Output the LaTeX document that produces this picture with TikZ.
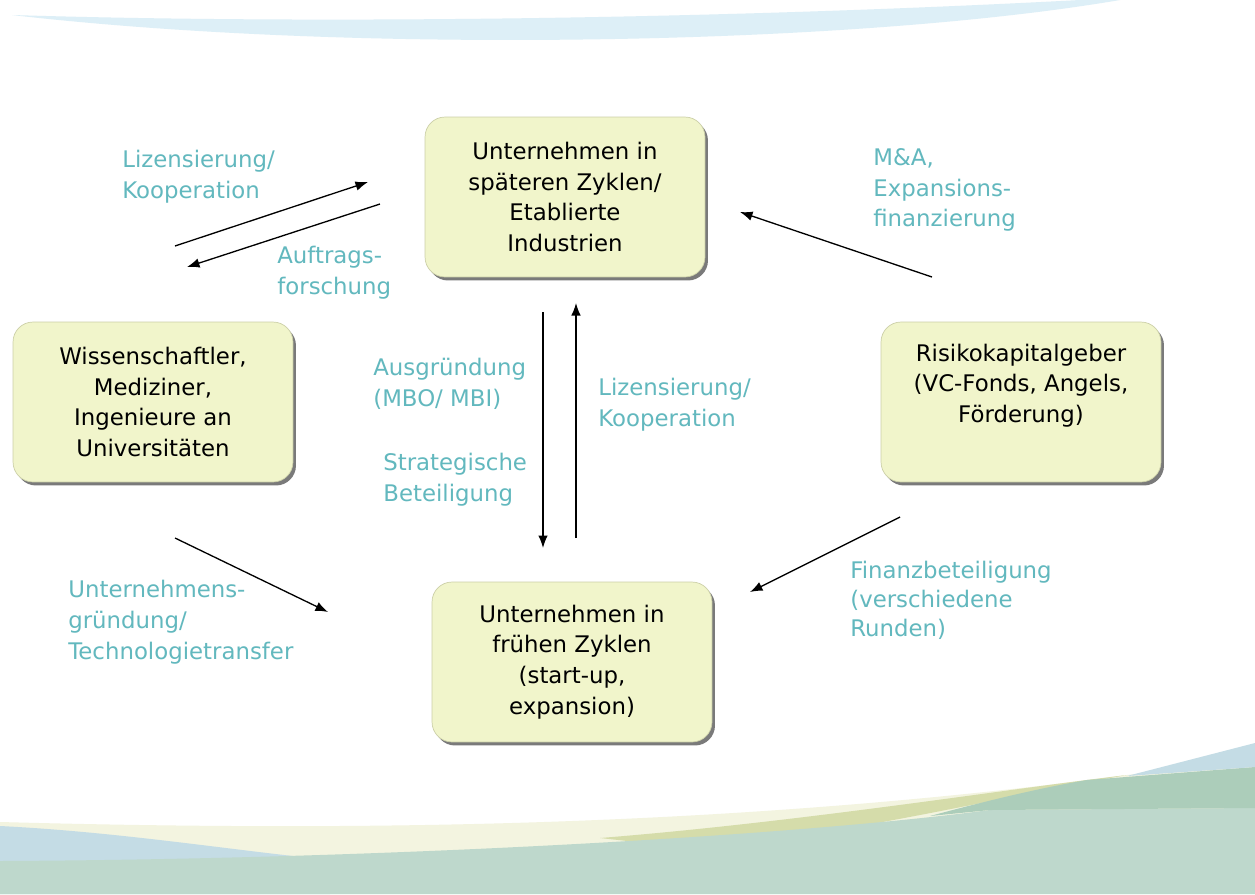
\documentclass[tikz,border=0pt]{standalone}
\usepackage{fontspec}
\setmainfont{DejaVu Sans}
\usepackage{tikz}
\usepackage{xcolor}
\usetikzlibrary{
    shadows,
    arrows.meta
}
\definecolor{boxfill}{RGB}{241,245,203}
\definecolor{boxline}{RGB}{204,208,168}
\definecolor{tealtext}{RGB}{98,184,190}
\definecolor{skyband}{RGB}{221,239,247}
\definecolor{seablue}{RGB}{196,220,229}
\definecolor{meadow}{RGB}{190,216,204}
\definecolor{darkmeadow}{RGB}{172,205,186}
\definecolor{fieldolive}{RGB}{213,220,170}
\definecolor{creamband}{RGB}{243,244,224}
\tikzset{stagebox/.style={draw=boxline, fill=boxfill, rounded corners=0.4cm,
    minimum width=5.6cm, minimum height=3.2cm, align=center,
    font=\fontsize{13}{17.5}\selectfont,
    drop shadow={shadow xshift=0.06cm, shadow yshift=-0.07cm, fill=black!65, opacity=0.8}}}
\tikzset{flowtext/.style={anchor=north west, inner sep=0pt, align=left, text=tealtext,
    font=\fontsize{13}{17.5}\selectfont}}

\begin{document}
\begin{tikzpicture}[x=0.02cm, y=-0.02cm]
            \useasboundingbox[fill=white] (0,0) rectangle (1255,894);

            % background waves
            \fill[skyband] (12,15) .. controls (300,24) and (700,20) .. (1080,0) -- (1120,0) .. controls (850,46) and (350,54) .. (12,15) -- cycle;
            \fill[creamband] (0,822) .. controls (300,830) and (700,832) .. (1127,775) -- (1255,760) -- (1255,894) -- (0,894) -- cycle;
            \fill[seablue] (0,826) .. controls (120,832) and (230,850) .. (330,860) -- (330,894) -- (0,894) -- cycle;
            \fill[fieldolive] (600,838) .. controls (800,822) and (1000,790) .. (1127,775) .. controls (1000,797) and (860,832) .. (700,849) -- cycle;
            \fill[meadow] (0,861) .. controls (400,859) and (800,835) .. (990,810) -- (1255,808) -- (1255,894) -- (0,894) -- cycle;
            \fill[darkmeadow] (930,816) .. controls (990,800) and (1040,788) .. (1087,780) -- (1255,767) -- (1255,808) -- (990,810) -- cycle;
            \fill[seablue] (1127,776) -- (1255,743) -- (1255,767) -- cycle;

            \node[stagebox] (later) at (565,197) {Unternehmen in\\späteren Zyklen/\\Etablierte\\Industrien};
            \node[stagebox] (science) at (153,402) {Wissenschaftler,\\Mediziner,\\Ingenieure an\\Universitäten};
            \node[stagebox, text depth=0.75cm] (venture) at (1021,402) {Risikokapitalgeber\\(VC-Fonds, Angels,\\Förderung)};
            \node[stagebox] (early) at (572,662) {Unternehmen in\\frühen Zyklen\\(start-up,\\expansion)};

            \coordinate (licA) at (175,246);  \coordinate (licB) at (368,182);
            \coordinate (ordA) at (380,204);  \coordinate (ordB) at (187,267);
            \coordinate (spinA) at (543,312); \coordinate (spinB) at (543,548);
            \coordinate (coopA) at (576,538); \coordinate (coopB) at (576,303);
            \coordinate (maA) at (932,277);   \coordinate (maB) at (740,212);
            \coordinate (finA) at (900,517);  \coordinate (finB) at (750,592);
            \coordinate (foundA) at (175,538); \coordinate (foundB) at (328,612);

            \draw[->, >={Latex[length=0.25cm, width=0.19cm]}, line width=0.75pt] (licA)--(licB);
            \draw[->, >={Latex[length=0.25cm, width=0.19cm]}, line width=0.75pt] (ordA)--(ordB);
            \draw[->, >={Latex[length=0.25cm, width=0.19cm]}, line width=0.75pt] (spinA)--(spinB);
            \draw[->, >={Latex[length=0.25cm, width=0.19cm]}, line width=0.75pt] (coopA)--(coopB);
            \draw[->, >={Latex[length=0.25cm, width=0.19cm]}, line width=0.75pt] (maA)--(maB);
            \draw[->, >={Latex[length=0.25cm, width=0.19cm]}, line width=0.75pt] (finA)--(finB);
            \draw[->, >={Latex[length=0.25cm, width=0.19cm]}, line width=0.75pt] (foundA)--(foundB);

            \node[flowtext] (licText) at (122,150) {Lizensierung/\\Kooperation};
            \node[flowtext] (ordText) at (277,246) {Auftrags-\\forschung};
            \node[flowtext] (spinText) at (373,358) {Ausgründung\\(MBO/ MBI)};
            \node[flowtext] (stratText) at (383,453) {Strategische\\Beteiligung};
            \node[flowtext] (coopText) at (598,378) {Lizensierung/\\Kooperation};
            \node[flowtext] (maText) at (873,148) {M\&A,\\Expansions-\\finanzierung};
            \node[flowtext, font=\fontsize{13}{16.5}\selectfont] (finText) at (850,561) {Finanzbeteiligung\\(verschiedene\\Runden)};
            \node[flowtext] (foundText) at (68,580) {Unternehmens-\\gründung/\\Technologietransfer};
            \end{tikzpicture}
\end{document}
